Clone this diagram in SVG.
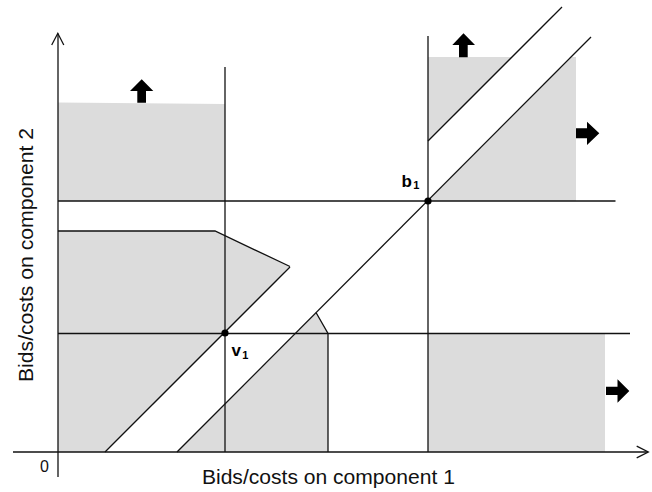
<svg xmlns="http://www.w3.org/2000/svg" width="652" height="492" viewBox="0 0 652 492">
<style>
.fill{fill:#dcdcdc;stroke:none}
.ln{stroke:#111;stroke-width:1.3;fill:none}
.blk{fill:#000;stroke:none}
.lbl{font-family:"Liberation Sans",Arial,sans-serif;fill:#111}
.pt{font-family:"Liberation Sans",Arial,sans-serif;font-weight:bold;fill:#000}
</style>
<rect width="652" height="492" fill="#fff"/>
<g id="regions">
<polygon class="fill" points="58,102.5 225,104 225,201 58,201"/>
<polygon class="fill" points="58,231 215,231 290,266.5 105,452 58,452"/>
<polygon class="fill" points="177,452 316,313 328,333 328,452"/>
<polygon class="fill" points="428,57 512,57 428,141"/>
<polygon class="fill" points="428,201 572,57 576,57 576,201"/>
<rect class="fill" x="428" y="333" width="177" height="119"/>
</g>
<g id="arrows">
<polygon class="blk" points="130,91 141.7,79.3 153.3,91 146,91 146,102.7 137.3,102.7 137.3,91"/>
<polygon class="blk" points="452.3,45 463.5,33.3 475,45 467.7,45 467.7,57.3 459,57.3 459,45"/>
<polygon class="blk" points="576,128.3 587,128.3 587,121.7 599.3,133.3 587,145 587,138.3 576,138.3"/>
<polygon class="blk" points="606,386.7 617.5,386.7 617.5,379.3 629.3,391 617.5,402.7 617.5,395 606,395"/>
</g>
<g id="connectors">
<line class="ln" x1="58" y1="33.5" x2="58" y2="477"/>
<polyline class="ln" points="51.7,45 57.8,33.3 63.8,45"/>
<line class="ln" x1="13" y1="452" x2="648" y2="452"/>
<polyline class="ln" points="636.7,446.2 648.3,452 636.7,457.8"/>
<line class="ln" x1="225" y1="67" x2="225" y2="452"/>
<line class="ln" x1="428" y1="36" x2="428" y2="452"/>
<line class="ln" x1="58" y1="201" x2="615.5" y2="201"/>
<line class="ln" x1="58" y1="333.5" x2="630" y2="333.5"/>
<polyline class="ln" points="58,231 215,231 290,266.5"/>
<line class="ln" x1="105" y1="452" x2="290" y2="267"/>
<line class="ln" x1="177" y1="452" x2="591" y2="37"/>
<line class="ln" x1="428" y1="141" x2="562" y2="7"/>
<polyline class="ln" points="316,312.5 328,333.5 328,452"/>
</g>
<g id="points">
<circle cx="428" cy="201" r="3.6" fill="#000"/>
<circle cx="225" cy="333" r="3.6" fill="#000"/>
</g>
<g id="labels">
<text class="pt" x="401.5" y="186.5" font-size="17">b</text>
<text class="pt" x="413.3" y="189" font-size="11">1</text>
<text class="pt" x="231.5" y="355.5" font-size="17">v</text>
<text class="pt" x="242.3" y="358.5" font-size="11">1</text>
<text class="lbl" x="40" y="472.3" font-size="16">0</text>
<text class="lbl" x="328.4" y="484.3" font-size="20.5" text-anchor="middle" textLength="253" lengthAdjust="spacingAndGlyphs">Bids/costs on component 1</text>
<text class="lbl" transform="translate(33.3,255) rotate(-90)" x="0" y="0" font-size="20.5" text-anchor="middle" textLength="254" lengthAdjust="spacingAndGlyphs">Bids/costs on component 2</text>
</g>
</svg>
